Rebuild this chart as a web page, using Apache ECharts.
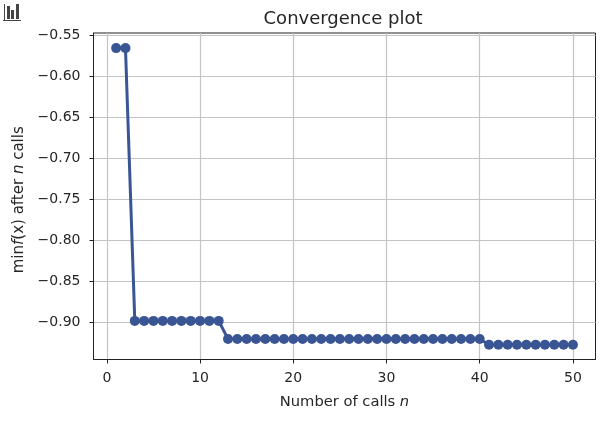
<!DOCTYPE html>
<html>
<head>
<meta charset="utf-8">
<style>
  html, body { margin: 0; padding: 0; background: #fff; }
  #chart { width: 600px; height: 421px; }
</style>
<script src="https://cdn.jsdelivr.net/npm/echarts@6/dist/echarts.min.js"></script>
</head>
<body>
<div id="chart"></div>
<script>
const calls = [1, 2, 3, 4, 5, 6, 7, 8, 9, 10, 11, 12, 13, 14, 15, 16, 17, 18, 19, 20, 21, 22, 23, 24, 25,
  26, 27, 28, 29, 30, 31, 32, 33, 34, 35, 36, 37, 38, 39, 40, 41, 42, 43, 44, 45, 46, 47, 48, 49, 50]
const minValues = [-0.566, -0.566, -0.898, -0.898, -0.898, -0.898, -0.898, -0.898, -0.898, -0.898,
  -0.898, -0.898, -0.920, -0.920, -0.920, -0.920, -0.920, -0.920, -0.920, -0.920,
  -0.920, -0.920, -0.920, -0.920, -0.920, -0.920, -0.920, -0.920, -0.920, -0.920,
  -0.920, -0.920, -0.920, -0.920, -0.920, -0.920, -0.920, -0.920, -0.920, -0.920,
  -0.927, -0.927, -0.927, -0.927, -0.927, -0.927, -0.927, -0.927, -0.927, -0.927]
const xTicks = [0, 10, 20, 30, 40, 50]
const yTicks = [-0.90, -0.85, -0.80, -0.75, -0.70, -0.65, -0.60, -0.55]

const fontFamily = 'DejaVu Sans'
const textColor = '#262626'
const lineColor = '#3a5594'

const chart = echarts.init(document.getElementById('chart'), null, { renderer: 'canvas' })

const baseAxis = {
  axisLine: { onZero: false, lineStyle: { color: '#222', width: 1 } },
  axisTick: { length: 4, lineStyle: { color: '#222', width: 1 } },
  splitLine: { show: true, lineStyle: { color: '#c4c4c4', width: 1.2 } }
}

chart.setOption({
  animation: false,
  backgroundColor: '#fff',
  title: {
    text: 'Convergence plot',
    left: 343,
    top: 10,
    padding: 0,
    textAlign: 'center',
    textStyle: { fontFamily, fontSize: 18, fontWeight: 'normal', color: textColor }
  },
  grid: {
    show: true, left: 93.5, right: 4.5, top: 33, bottom: 61.5,
    borderColor: '#222', borderWidth: 1,
    containLabel: false, outerBoundsMode: 'none'
  },
  xAxis: {
    ...baseAxis,
    type: 'value',
    min: -1.43,
    max: 52.42,
    name: 'Number of calls {i|n}',
    nameLocation: 'middle',
    nameGap: 35,
    nameTextStyle: {
      fontFamily, fontSize: 14.7, color: textColor,
      rich: { i: { fontFamily, fontSize: 14.7, fontStyle: 'italic', color: textColor } }
    },
    axisTick: { ...baseAxis.axisTick, customValues: xTicks },
    axisLabel: { customValues: xTicks, fontFamily, fontSize: 14, color: textColor, margin: 12 }
  },
  yAxis: {
    ...baseAxis,
    type: 'value',
    min: -0.945,
    max: -0.5476,
    name: 'min{i|f}(x) after {i|n} calls',
    nameLocation: 'middle',
    nameGap: 66,
    nameTextStyle: {
      fontFamily, fontSize: 15, color: textColor,
      padding: [0, 7, 0, 0],
      rich: { i: { fontFamily, fontSize: 15, fontStyle: 'italic', color: textColor } }
    },
    axisTick: { ...baseAxis.axisTick, customValues: yTicks },
    axisLabel: {
      customValues: yTicks,
      fontFamily, fontSize: 14, color: textColor, margin: 13,
      padding: [2, 0, 0, 0],
      formatter: (v) => '\u2212' + Math.abs(v).toFixed(2)
    }
  },
  series: [{
    type: 'line',
    data: calls.map((c, i) => [c, minValues[i]]),
    symbol: 'circle',
    symbolSize: 10,
    showSymbol: true,
    lineStyle: { color: lineColor, width: 3 },
    itemStyle: { color: lineColor }
  }],
  graphic: [
    { type: 'rect', shape: { x: 3, y: 20, width: 18, height: 1 }, style: { fill: '#444' } },
    { type: 'rect', shape: { x: 4, y: 4, width: 1, height: 16 }, style: { fill: '#444' } },
    { type: 'rect', shape: { x: 7, y: 6, width: 3, height: 13 }, style: { fill: '#444' } },
    { type: 'rect', shape: { x: 11, y: 10, width: 3, height: 9 }, style: { fill: '#444' } },
    { type: 'rect', shape: { x: 16, y: 4, width: 3, height: 15 }, style: { fill: '#444' } }
  ]
})
</script>
</body>
</html>
